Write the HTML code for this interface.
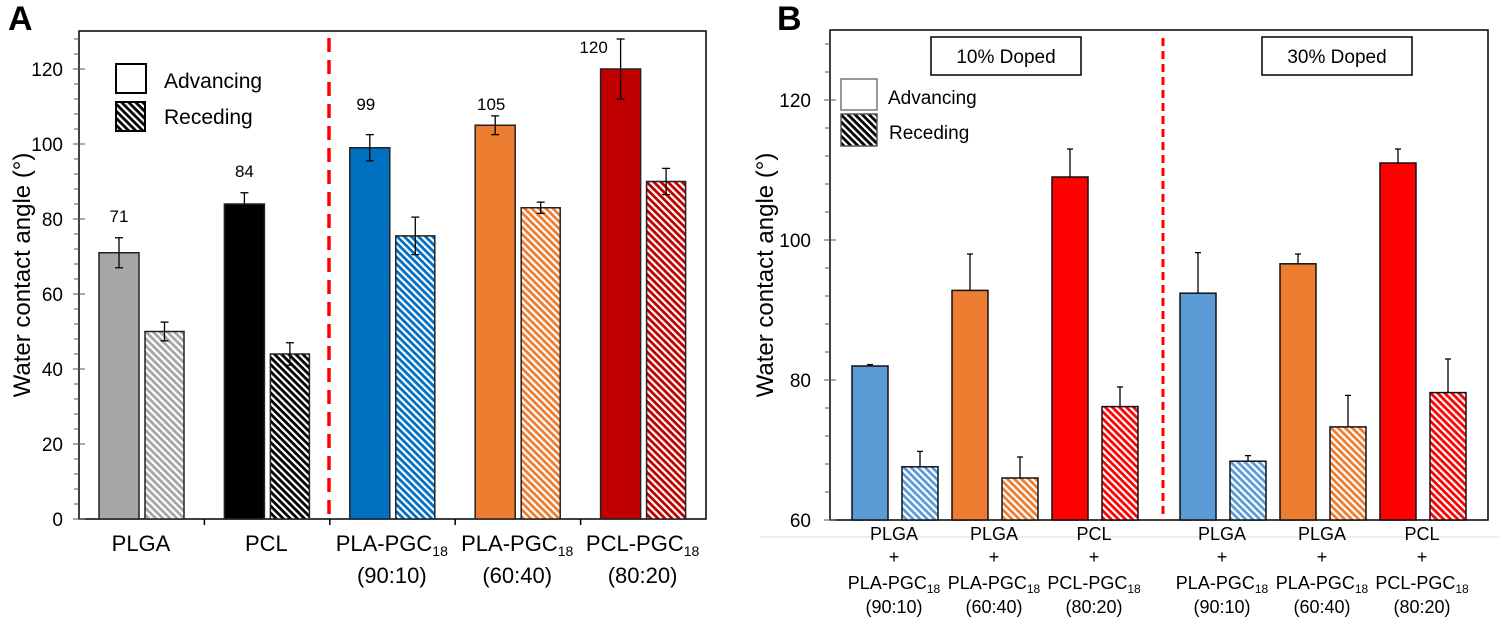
<!DOCTYPE html>
<html><head><meta charset="utf-8"><style>
html,body{margin:0;padding:0;background:#fff}
svg{display:block;font-family:"Liberation Sans",Arial,sans-serif}
</style></head><body>
<svg id="chart" width="1500" height="620" viewBox="0 0 1500 620">
<defs>
<pattern id="hatch" patternUnits="userSpaceOnUse" width="5" height="5" patternTransform="rotate(-45)">
<rect width="2.2" height="5" fill="#fff"/></pattern>
</defs>
<g id="A"></g>
<g id="B"></g>
</svg>
<script>
// Panel A data
const catsA = ["PLGA","PCL","PLA-PGC","PLA-PGC","PCL-PGC"];
const subA = ["","","(90:10)","(60:40)","(80:20)"];
const advA = [71,84,99,105,120];
const advErrA = [4,3,3.5,2.5,8];
const recA = [50,44,75.5,83,90];
const recErrA = [2.5,3,5,1.5,3.5];
const colorsA = ["#a6a6a6","#000000","#0070c0","#ed7d31","#c00000"];
const ticksA = [0,20,40,60,80,100,120];
// Panel B data
const line1B = ["PLGA","PLGA","PCL","PLGA","PLGA","PCL"];
const line3B = ["PLA-PGC","PLA-PGC","PCL-PGC","PLA-PGC","PLA-PGC","PCL-PGC"];
const line4B = ["(90:10)","(60:40)","(80:20)","(90:10)","(60:40)","(80:20)"];
const advB = [82,92.8,109,92.4,96.6,111];
const advErrB = [0.2,5.2,4,5.8,1.4,2];
const recB = [67.6,66,76.2,68.4,73.3,78.2];
const recErrB = [2.2,3,2.8,0.8,4.5,4.8];
const colorsB = ["#5b9bd5","#ed7d31","#ff0000","#5b9bd5","#ed7d31","#ff0000"];
const ticksB = [60,80,100,120];

const NS="http://www.w3.org/2000/svg";
function mk(parent,tag,attrs,text){const e=document.createElementNS(NS,tag);for(const k in attrs)e.setAttribute(k,attrs[k]);if(text!==undefined)e.textContent=text;parent.appendChild(e);return e;}

// ---------- Panel A ----------
const A=document.getElementById('A');
const yA=v=>519-v*3.75;
const gx=i=>79+i*125.4;
let t=mk(A,'text',{x:8,y:30,'font-size':34,'font-weight':'bold'},'A');

let r=mk(A,'rect',{x:79,y:31,width:627,height:488,fill:'none',stroke:'#000','stroke-width':1.5});

for(let v=0;v<=128;v+=4){const y=yA(v);const maj=ticksA.includes(v);mk(A,'line',{x1:maj?73:74,x2:maj?85:79,y1:y,y2:y,stroke:'#555','stroke-width':1});}
ticksA.forEach(v=>{const e=mk(A,'text',{x:63,y:yA(v)+7,'font-size':19,'text-anchor':'end'},v);
});
for(let i=1;i<5;i++)mk(A,'line',{x1:gx(i),x2:gx(i),y1:519,y2:525,stroke:'#000','stroke-width':1.5});
t=mk(A,'text',{x:0,y:0,'font-size':24,'text-anchor':'middle',transform:'translate(30,275) rotate(-90)'},'Water contact angle (°)');

let d=mk(A,'line',{x1:329,x2:329,y1:38,y2:519,stroke:'#ff0000','stroke-width':3.5,'stroke-dasharray':'14,8'});

catsA.forEach((c,i)=>{
  const x0=gx(i);
  const b=mk(A,'rect',{x:x0+20,y:yA(advA[i]),width:40,height:yA(0)-yA(advA[i]),fill:colorsA[i],stroke:'#222','stroke-width':1.5});
  
  const g=mk(A,'g',{});
  mk(g,'rect',{x:x0+66,y:yA(recA[i]),width:39,height:yA(0)-yA(recA[i]),fill:colorsA[i]});
  mk(g,'rect',{x:x0+66,y:yA(recA[i]),width:39,height:yA(0)-yA(recA[i]),fill:'url(#hatch)',stroke:'#222','stroke-width':1.5});
  
  [[x0+40,advA[i],advErrA[i]],[x0+85.5,recA[i],recErrA[i]]].forEach(([cx,v,e])=>{
    const eg=mk(A,'g',{stroke:'#000','stroke-width':1.3});
    mk(eg,'line',{x1:cx,x2:cx,y1:yA(v+e),y2:yA(v-e)});
    mk(eg,'line',{x1:cx-4,x2:cx+4,y1:yA(v+e),y2:yA(v+e)});
    mk(eg,'line',{x1:cx-4,x2:cx+4,y1:yA(v-e),y2:yA(v-e)});
    
  });
  let lx,ly;
  if(i<2){lx=x0+40;ly=yA(advA[i]+advErrA[i])-16;}
  else if(i==2){lx=x0+36;ly=110;}
  else if(i==3){lx=x0+36;ly=110;}
  else {lx=x0+13;ly=53;}
  const vl=mk(A,'text',{x:lx,y:ly,'font-size':17,'text-anchor':'middle'},advA[i]);
  
  const lab=mk(A,'text',{x:x0+62,y:551,'font-size':22,'text-anchor':'middle'},c);
  if(i>=2){mk(lab,'tspan',{'font-size':14,dy:5},'18');}
  
  if(subA[i]){const s=mk(A,'text',{x:x0+62,y:583,'font-size':22,'text-anchor':'middle'},subA[i]);
  }
});
// legend A
let lg=mk(A,'g',{});
mk(lg,'rect',{x:116,y:64,width:30,height:29,fill:'#fff',stroke:'#000','stroke-width':2});
mk(lg,'text',{x:164,y:88,'font-size':21},'Advancing');
mk(lg,'rect',{x:116,y:102,width:29,height:29,fill:'#000'});
mk(lg,'rect',{x:116,y:102,width:29,height:29,fill:'url(#hatch)',stroke:'#000','stroke-width':2});
mk(lg,'text',{x:164,y:124,'font-size':21},'Receding');

// ---------- Panel B ----------
const B=document.getElementById('B');
const yB=v=>520-(v-60)*7;
const bx=i=>i<3?852+i*100:1180+(i-3)*100;
t=mk(B,'text',{x:777,y:30,'font-size':34,'font-weight':'bold'},'B');

r=mk(B,'rect',{x:830,y:30,width:658,height:490,fill:'none',stroke:'#000','stroke-width':1.5});

mk(B,'line',{x1:760,x2:1500,y1:537,y2:537,stroke:'#ddd','stroke-width':1});
for(let v=60;v<=128;v+=4){const y=yB(v);const maj=ticksB.includes(v);mk(B,'line',{x1:maj?824:825,x2:maj?836:830,y1:y,y2:y,stroke:'#555','stroke-width':1});}
ticksB.forEach(v=>{const e=mk(B,'text',{x:811,y:yB(v)+7,'font-size':19,'text-anchor':'end'},v);
});
t=mk(B,'text',{x:0,y:0,'font-size':24,'text-anchor':'middle',transform:'translate(773,275) rotate(-90)'},'Water contact angle (°)');

d=mk(B,'line',{x1:1163,x2:1163,y1:38,y2:520,stroke:'#ff0000','stroke-width':3,'stroke-dasharray':'8,5'});

[[931,'10% Doped','box-10-doped'],[1262,'30% Doped','box-30-doped']].forEach(([x,s,n])=>{
  const g=mk(B,'g',{});
  mk(g,'rect',{x:x,y:37,width:150,height:38,fill:'#fff',stroke:'#000','stroke-width':1.5});
  mk(g,'text',{x:x+75,y:63,'font-size':19,'text-anchor':'middle'},s);
});
advB.forEach((v,i)=>{
  const x0=bx(i);
  const b=mk(B,'rect',{x:x0,y:yB(v),width:36,height:yB(60)-yB(v),fill:colorsB[i],stroke:'#111','stroke-width':1.5});
  
  const g=mk(B,'g',{});
  mk(g,'rect',{x:x0+50,y:yB(recB[i]),width:36,height:yB(60)-yB(recB[i]),fill:colorsB[i]});
  mk(g,'rect',{x:x0+50,y:yB(recB[i]),width:36,height:yB(60)-yB(recB[i]),fill:'url(#hatch)',stroke:'#111','stroke-width':1.5});
  
  [[x0+18,v,advErrB[i]],[x0+68,recB[i],recErrB[i]]].forEach(([cx,vv,e])=>{
    const eg=mk(B,'g',{stroke:'#000','stroke-width':1.3});
    mk(eg,'line',{x1:cx,x2:cx,y1:yB(vv+e),y2:yB(vv)});
    mk(eg,'line',{x1:cx-3,x2:cx+3,y1:yB(vv+e),y2:yB(vv+e)});
    
  });
  const cx=x0+42;
  const lg2=mk(B,'g',{'font-size':18,'text-anchor':'middle'});
  
  mk(lg2,'text',{x:cx,y:540},line1B[i]);
  mk(lg2,'text',{x:cx,y:563},'+');
  const l3=mk(lg2,'text',{x:cx,y:589},line3B[i]);mk(l3,'tspan',{'font-size':12,dy:4},'18');
  mk(lg2,'text',{x:cx,y:613},line4B[i]);
});
lg=mk(B,'g',{});
mk(lg,'rect',{x:841,y:79,width:36,height:31,fill:'#fff',stroke:'#777','stroke-width':1.5});
mk(lg,'text',{x:888,y:104,'font-size':19},'Advancing');
mk(lg,'rect',{x:841,y:114,width:36,height:32,fill:'#000'});
mk(lg,'rect',{x:841,y:114,width:36,height:32,fill:'url(#hatch)',stroke:'#555','stroke-width':1.5});
mk(lg,'text',{x:889,y:139,'font-size':19},'Receding');
</script>
</body></html>
